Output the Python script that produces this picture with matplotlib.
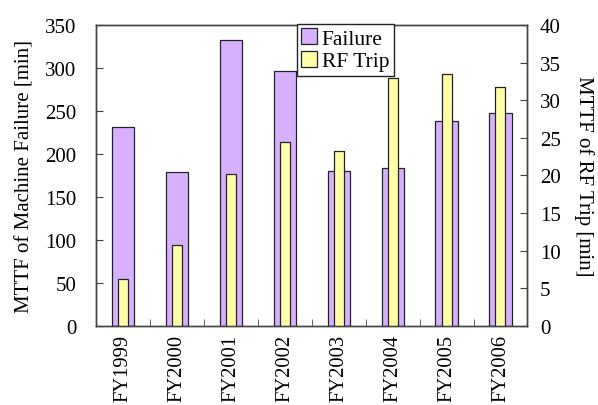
import matplotlib.pyplot as plt
import matplotlib as mpl
import numpy as np
from matplotlib.ticker import FixedLocator

mpl.rcParams['font.family'] = 'Liberation Serif'
mpl.rcParams['font.size'] = 15

'''Data'''
years = ['FY1999', 'FY2000', 'FY2001', 'FY2002', 'FY2003', 'FY2004', 'FY2005', 'FY2006']
failure_mttf = [231, 179, 333, 297, 180, 183, 238, 248]          # min, left axis
rf_trip_mttf = [6.2, 10.8, 20.2, 24.4, 23.3, 32.9, 33.5, 31.7]   # min, right axis

x = np.arange(len(years))

fig = plt.figure(figsize=(5.98, 4.06), dpi=100)
ax1 = fig.add_axes([0.1605, 0.1953, 0.7215, 0.7407])
ax2 = ax1.twinx()

b1 = ax1.bar(x, failure_mttf, width=0.41, color='#D7B1FF', edgecolor='#222222', linewidth=0.9, label='Failure')
b2 = ax2.bar(x, rf_trip_mttf, width=0.185, color='#FFFFAA', edgecolor='#222222', linewidth=0.9, label='RF Trip')

ax1.set_xlim(-0.5, len(years) - 0.5)
ax1.set_ylim(0, 350)
ax2.set_ylim(0, 40)
ax1.set_yticks(range(0, 351, 50))
ax2.set_yticks(range(0, 41, 5))

ax1.set_xticks(x)
ax1.set_xticklabels(years, rotation=90, fontsize=14.8)
ax1.xaxis.set_minor_locator(FixedLocator(x[:-1] + 0.5))
ax1.tick_params(axis='x', which='major', length=0, pad=6)
ax1.tick_params(axis='x', which='minor', direction='in', length=5, color='#444444')
ax1.tick_params(axis='y', direction='in', length=5, color='#444444', pad=14)
ax2.tick_params(axis='y', direction='in', length=5, color='#444444', pad=9)

for ax in (ax1, ax2):
    for s in ax.spines.values():
        s.set_color('#444444')
        s.set_linewidth(1.0)

ax1.set_ylabel('MTTF of Machine Failure [min]', labelpad=8)
ax2.set_ylabel('MTTF of RF Trip [min]', rotation=-90, labelpad=24)

leg = ax2.legend(handles=[b1, b2], loc='upper left', bbox_to_anchor=(297 / 598, 1 - 25 / 406),
                 bbox_transform=fig.transFigure, borderaxespad=0, fancybox=False,
                 edgecolor='#222222', framealpha=1, handlelength=0.75, handleheight=0.75,
                 handletextpad=0.2, borderpad=0.2, labelspacing=0.1, fontsize=15.5)
leg.get_frame().set_linewidth(1.0)

fig.savefig('out.png', dpi=100)
